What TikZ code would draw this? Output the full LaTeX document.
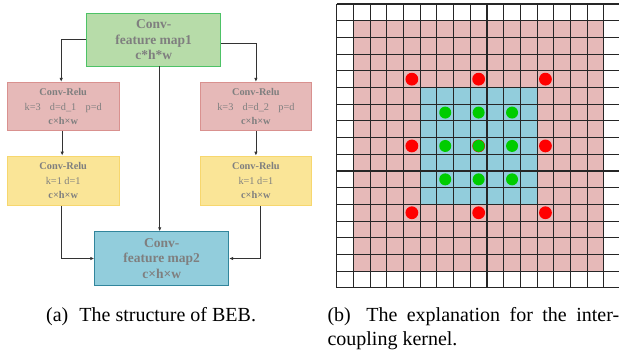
\documentclass[tikz,border=0pt]{standalone}
\usepackage{fontspec}
\setmainfont{Liberation Serif}
\usetikzlibrary{arrows.meta}
\definecolor{txtgray}{HTML}{7F7F7F}
\definecolor{gfill}{HTML}{B7DCA9}
\definecolor{gdraw}{HTML}{4DC266}
\definecolor{pfill}{HTML}{E6B9B8}
\definecolor{pdraw}{HTML}{D9918F}
\definecolor{yfill}{HTML}{FAE597}
\definecolor{ydraw}{HTML}{F7D76E}
\definecolor{bfill}{HTML}{92CDDC}
\definecolor{bdraw}{HTML}{31859C}
\definecolor{dotred}{HTML}{FF0000}
\definecolor{dotgreen}{HTML}{00CC00}
\definecolor{linec}{HTML}{333333}
\begin{document}
\begin{tikzpicture}[x=1pt,y=-1pt,
  bigbox/.style={draw, line width=0.9pt, minimum width=134pt, inner sep=0pt, align=center,
    text=txtgray, font=\fontsize{13.5}{15.5}\selectfont\bfseries},
  smallbox/.style={draw, line width=0.9pt, minimum width=111.7pt, inner sep=0pt, align=center,
    text=txtgray, font=\fontsize{10.3}{14.7}\selectfont},
  conn/.style={draw=linec, line width=0.8pt, -{Latex[length=4pt,width=3.5pt]}},
  capt/.style={anchor=base west, inner sep=0pt, font=\fontsize{20}{23.3}\selectfont}]
\useasboundingbox (0,0) rectangle (619,354);

% ---- left: structure of BEB ----
\node[bigbox, fill=gfill, draw=gdraw, minimum height=52.7pt] (g) at (153.7,39.65)
  {Conv-\\feature map1\\c*h*w};
\node[smallbox, fill=pfill, draw=pdraw, minimum height=48.4pt] (p1) at (63.2,106.5)
  {\textbf{Conv-Relu}\\k=3\hspace{0.9em}d=d\_1\hspace{0.9em}p=d\\\textbf{c×h×w}};
\node[smallbox, fill=pfill, draw=pdraw, minimum height=48.4pt] (p2) at (255.9,106.5)
  {\textbf{Conv-Relu}\\k=3\hspace{0.9em}d=d\_2\hspace{0.9em}p=d\\\textbf{c×h×w}};
\node[smallbox, fill=yfill, draw=ydraw, minimum height=49.3pt] (y1) at (63.2,180.7)
  {\textbf{Conv-Relu}\\k=1 d=1\\\textbf{c×h×w}};
\node[smallbox, fill=yfill, draw=ydraw, minimum height=49.3pt] (y2) at (255.9,180.7)
  {\textbf{Conv-Relu}\\k=1 d=1\\\textbf{c×h×w}};
\node[bigbox, fill=bfill, draw=bdraw, minimum height=53.6pt] (b) at (161.7,258.5)
  {Conv-\\feature map2\\c×h×w};

\draw[conn] (g.west) -| ([xshift=-2pt]p1.north);
\draw[conn] ([yshift=-3.7pt]g.east) -| (p2.north);
\draw[conn] ([xshift=-1pt]p1.south) -- ([xshift=-1pt]y1.north);
\draw[conn] (p2.south) -- (y2.north);
\draw[conn] ([xshift=-2pt]b.north |- g.south) -- ([xshift=-2pt]b.north);
\draw[conn] ([xshift=-2pt]y1.south) |- (b.west);
\draw[conn] ([xshift=4.4pt]y2.south) |- (b.east);

% ---- right: grid ----
\begin{scope}[shift={(336.7,4)}, x=16.7pt, y=-16.7pt]
  \fill[pfill] (1,1) rectangle (16,16);
  \fill[bfill] (5,5) rectangle (12,12);
  \foreach \i in {0,...,17} {
    \draw[line width=1.1pt, black!85] (\i,0) -- (\i,17);
    \draw[line width=1.1pt, black!85] (0,\i) -- (17,\i);
  }
  \foreach \c in {4,8,12} \foreach \r in {4,8,12}
    \fill[dotred] (\c+0.5,\r+0.5) circle[radius=6.4pt];
  \foreach \c in {6,8,10} \foreach \r in {6,8,10}
    \fill[dotgreen] (\c+0.5,\r+0.5) circle[radius=6pt];
  \fill[dotgreen] (8.5,8.5) circle[radius=5.4pt];
\end{scope}

% ---- captions ----
\node[capt] (capa) at (46,321) {(a)\hspace{0.55em}The structure of BEB.};
\node[capt] (capb1) at (327.3,321.7) {\makebox[291.7pt][s]{(b)\hspace{0.3em} The explanation for the inter-}};
\node[capt] (capb2) at (327.3,345) {coupling kernel.};
\end{tikzpicture}
\end{document}
